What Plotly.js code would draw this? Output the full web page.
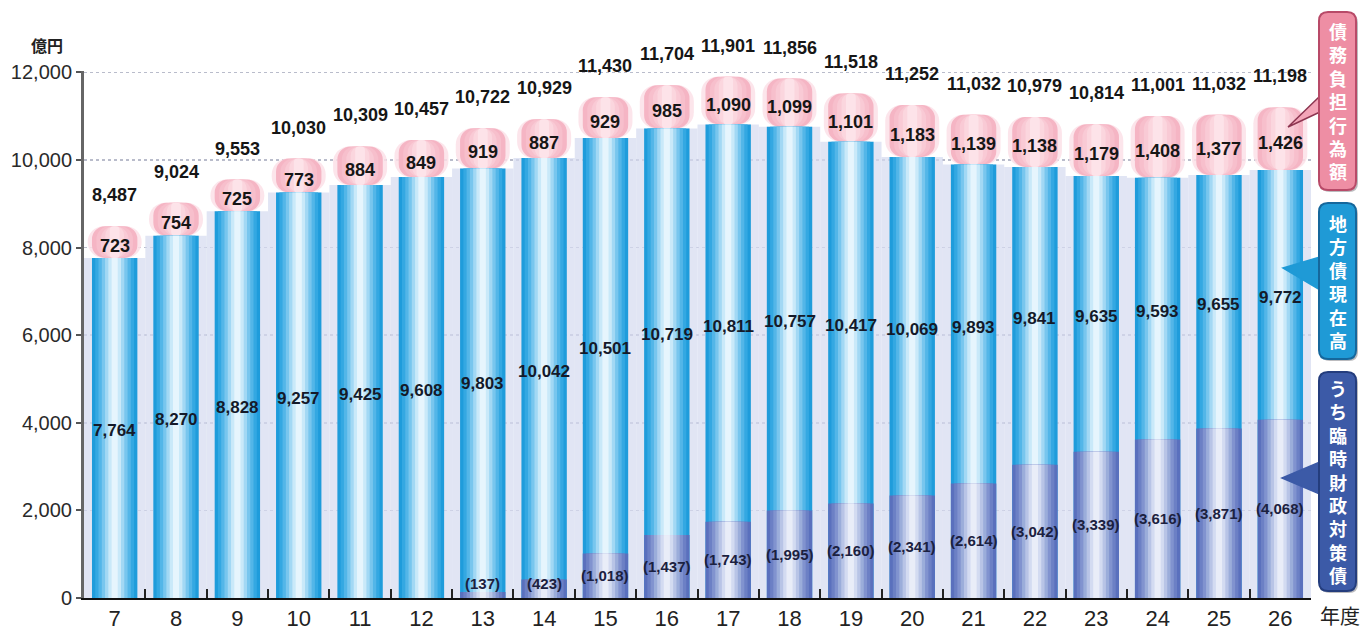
<!DOCTYPE html>
<html>
<head>
<meta charset="utf-8">
<script src="https://cdn.plot.ly/plotly-3.0.1.min.js"></script>
<style>
  html, body { margin: 0; padding: 0; background: #fff; }
  #chart { width: 1370px; height: 631px; }
</style>
</head>
<body>
<div id="chart"></div>
<script>
// Fiscal years (平成)
const categories = ['7','8','9','10','11','12','13','14','15','16','17','18','19','20','21','22','23','24','25','26'];
// 地方債現在高 (億円)
const debtBalance = [7764, 8270, 8828, 9257, 9425, 9608, 9803, 10042, 10501, 10719, 10811, 10757, 10417, 10069, 9893, 9841, 9635, 9593, 9655, 9772];
// 債務負担行為額 (億円)
const obligations = [723, 754, 725, 773, 884, 849, 919, 887, 929, 985, 1090, 1099, 1101, 1183, 1139, 1138, 1179, 1408, 1377, 1426];
// 合計 (億円)
const totals = [8487, 9024, 9553, 10030, 10309, 10457, 10722, 10929, 11430, 11704, 11901, 11856, 11518, 11252, 11032, 10979, 10814, 11001, 11032, 11198];
// うち臨時財政対策債 (億円)
const tempBonds = [null, null, null, null, null, null, 137, 423, 1018, 1437, 1743, 1995, 2160, 2341, 2614, 3042, 3339, 3616, 3871, 4068];

const yTicks = [0, 2000, 4000, 6000, 8000, 10000, 12000];
const legendLabels = ['債務負担行為額', '地方債現在高', 'うち臨時財政対策債'];

// plot area geometry (pixels)
const W = 1370, H = 631;
const M = { l: 84, r: 59, t: 71, b: 33 };
const PW = W - M.l - M.r, PH = H - M.t - M.b;
const fx = px => (px - M.l) / PW;
const fy = py => (H - M.b - py) / PH;

const NUM_FONT = 'Liberation Sans Narrow, Liberation Sans, Arial, sans-serif';
const JP_FONT = 'Noto Sans CJK JP, sans-serif';
const fmt = v => v.toLocaleString('en-US');

function layer(y, base, width, color, radius) {
  const t = {
    type: 'bar', x: categories, y: y, width: width,
    marker: { color: color, line: { width: 0 } },
    hoverinfo: 'skip', showlegend: false
  };
  if (base) t.base = base;
  if (radius) t.marker.cornerradius = radius;
  return t;
}

// stepped stripes that fake the shading of a rounded column
function cylinder(y, base, colors, outer, inner, radius) {
  const n = colors.length;
  return colors.map((c, i) => layer(y, base, outer - (outer - inner) * i / (n - 1), c, radius));
}

const traces = [];
// pale backdrop filling each category slot up to the debt balance
traces.push(layer(debtBalance, null, 1.0, 'rgba(213,219,240,0.72)'));
// soft glow around the obligation caps
traces.push(layer(obligations, debtBalance, 0.88, 'rgba(252,224,231,0.85)', 16));
// obligation caps (pink)
traces.push(...cylinder(obligations, debtBalance,
  ['#f5b5c4', '#f7bfcc', '#f9cad5', '#fbd6de', '#fde3e9'], 0.74, 0.16, 13));
// debt balance (blue)
traces.push(...cylinder(debtBalance, null,
  ['#1f9cdb', '#34a8e2', '#53b6e8', '#78c6ee', '#a2d8f4', '#c9e9f9', '#e6f5fd'], 0.74, 0.1));
// temporary fiscal bonds (slate blue), overlaid on the bottom of the debt bars
traces.push(...cylinder(tempBonds, null,
  ['#5a70bd', '#6c80c5', '#8193cf', '#9badda', '#b8c4e6', '#d3dbf1', '#e9edf8'], 0.74, 0.1));

const annotations = [];
const valueFont = (size, color) => ({ family: NUM_FONT, size: size, color: color || '#161616', weight: 700 });
const label = (i, y, text, yshift, font) => ({
  x: i, y: y, xref: 'x', yref: 'y', text: text, showarrow: false,
  xanchor: 'center', yanchor: 'middle', yshift: yshift, font: font
});

categories.forEach((c, i) => {
  annotations.push(label(i, totals[i], fmt(totals[i]), 31, valueFont(18)));
  annotations.push(label(i, debtBalance[i] + obligations[i] / 2, fmt(obligations[i]), -4, valueFont(18)));
  const low = tempBonds[i] || 0;
  annotations.push(label(i, (low + debtBalance[i]) / 2, fmt(debtBalance[i]), -3, valueFont(17, '#141a2a')));
  if (tempBonds[i] != null) {
    annotations.push(label(i, Math.max(tempBonds[i] / 2, 340), '(' + fmt(tempBonds[i]) + ')', 0,
      valueFont(15, '#1b2140')));
  }
});

const paperText = (px, py, text, font) => ({
  xref: 'paper', yref: 'paper', x: fx(px), y: fy(py), text: text, showarrow: false,
  xanchor: 'center', yanchor: 'middle', font: font
});

// unit and axis captions
annotations.push(paperText(47, 45, '億円', { family: JP_FONT, size: 16, color: '#222', weight: 700 }));
annotations.push(paperText(1340, 615, '年度', { family: JP_FONT, size: 20, color: '#222' }));

// vertical legend tags
const tags = [
  { text: legendLabels[0], x0: 1319, x1: 1356, y0: 12, y1: 190, fill: '#ee8ea4', edge: '#b84a68',
    ptr: [[1320, 96], [1288, 127], [1320, 112]], ptrFill: '#f3a5b8', ptrLine: '#8c3550' },
  { text: legendLabels[1], x0: 1319, x1: 1356, y0: 203, y1: 359, fill: '#1f9ad6', edge: '#15679c',
    ptr: [[1320, 257], [1283, 268], [1320, 290]], ptrFill: '#1f9ad6', ptrLine: '#1f9ad6' },
  { text: legendLabels[2], x0: 1319, x1: 1356, y0: 372, y1: 591, fill: '#3c5aa7', edge: '#243d7d',
    ptr: [[1320, 462], [1282, 478], [1320, 494]], ptrFill: '#3c5aa7', ptrLine: '#3c5aa7' }
];

function roundRect(x0, y0, x1, y1, r) {
  const p = (x, y) => fx(x) + ',' + fy(y);
  return 'M' + p(x0 + r, y0) + ' L' + p(x1 - r, y0) + ' Q' + p(x1, y0) + ' ' + p(x1, y0 + r) +
    ' L' + p(x1, y1 - r) + ' Q' + p(x1, y1) + ' ' + p(x1 - r, y1) +
    ' L' + p(x0 + r, y1) + ' Q' + p(x0, y1) + ' ' + p(x0, y1 - r) +
    ' L' + p(x0, y0 + r) + ' Q' + p(x0, y0) + ' ' + p(x0 + r, y0) + ' Z';
}

const shapes = [];
tags.forEach(t => {
  shapes.push({ type: 'path', xref: 'paper', yref: 'paper', layer: 'above',
    path: roundRect(t.x0 + 2, t.y0 + 2, t.x1 + 2, t.y1 + 2, 9),
    fillcolor: 'rgba(60,60,70,0.35)', line: { width: 0 } });
  shapes.push({ type: 'path', xref: 'paper', yref: 'paper', layer: 'above',
    path: 'M' + t.ptr.map(p => fx(p[0]) + ',' + fy(p[1])).join(' L') + ' Z',
    fillcolor: t.ptrFill, line: { color: t.ptrLine, width: 1.5 } });
  shapes.push({ type: 'path', xref: 'paper', yref: 'paper', layer: 'above',
    path: roundRect(t.x0, t.y0, t.x1, t.y1, 9),
    fillcolor: t.fill, line: { color: t.edge, width: 2 } });
  annotations.push(paperText((t.x0 + t.x1) / 2, (t.y0 + t.y1) / 2, Array.from(t.text).join('<br>'),
    { family: JP_FONT, size: 18, color: '#ffffff', weight: 700 }));
});

const layout = {
  width: W, height: H,
  margin: M,
  paper_bgcolor: '#ffffff', plot_bgcolor: '#ffffff',
  barmode: 'overlay',
  showlegend: false,
  xaxis: {
    type: 'category', categoryorder: 'array', categoryarray: categories,
    range: [-0.5, categories.length - 0.5],
    showline: true, linecolor: '#111', linewidth: 2,
    ticks: 'inside', tickson: 'boundaries', ticklen: 9, tickwidth: 2, tickcolor: '#222',
    showgrid: false, zeroline: false,
    tickfont: { family: 'Liberation Sans, Arial, sans-serif', size: 22, color: '#222' }
  },
  yaxis: {
    range: [0, 12030], tickvals: yTicks, tickformat: ',',
    showline: true, linecolor: '#666', linewidth: 3,
    ticks: 'outside', ticklen: 5, tickwidth: 2, tickcolor: '#555',
    showgrid: true, gridcolor: '#b9bccb', griddash: 'dot', gridwidth: 1.5,
    zeroline: false,
    tickfont: { family: NUM_FONT, size: 20, color: '#2a2a2a' }
  },
  annotations: annotations,
  shapes: shapes
};

Plotly.newPlot('chart', traces, layout, { displayModeBar: false, staticPlot: true });
</script>
</body>
</html>
